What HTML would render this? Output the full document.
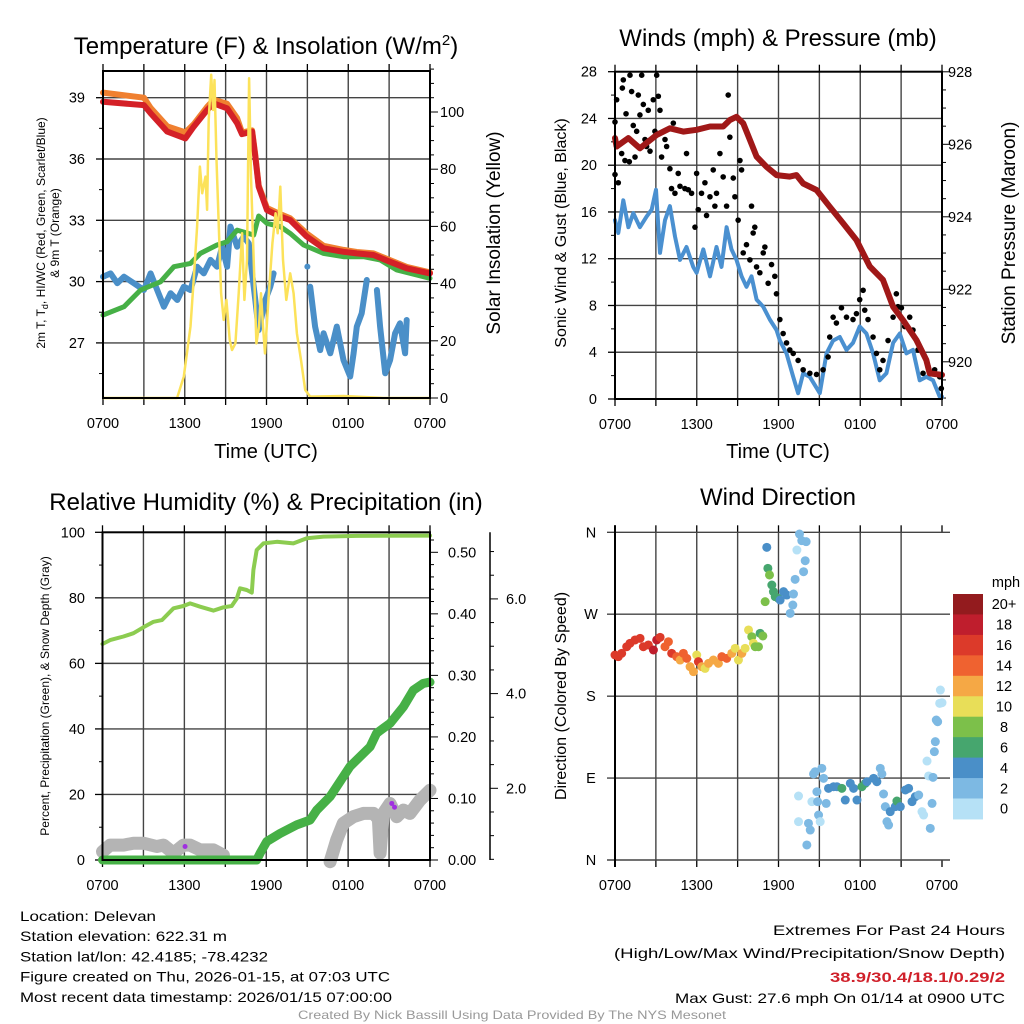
<!DOCTYPE html>
<html><head><meta charset="utf-8"><style>
body{margin:0;background:#fff;}
svg{display:block;font-family:"Liberation Sans",sans-serif;}
</style></head><body>
<svg id="c" width="1024" height="1024" viewBox="0 0 1024 1024"></svg>
<script>
// ===== Panel 1: temperature & insolation =====
const p1RedH=[0,3.0,3.49,4.71,6.05,6.66,7.64,8.13,9.11,9.84,10.2,10.94,11.18,11.43,12.04,13.01,13.74,14.96,16.19,17.65,18.63,19.85,21.07,22.29,24];
const p1Red=[38.8,38.64,38.24,37.34,37.01,37.58,38.4,38.72,38.48,37.75,37.22,37.34,36.11,34.64,33.5,33.18,33.01,32.2,31.63,31.46,31.38,31.3,30.97,30.65,30.4];
const p1Orange=[39.25,39.0,38.5,37.6,37.3,37.7,38.55,38.9,38.7,38.0,37.3,37.4,36.2,34.7,33.6,33.3,33.1,32.35,31.75,31.55,31.45,31.38,31.05,30.72,30.45];
const p1DewH=[0,1.54,2.76,4.22,5.2,6.42,7.15,8.37,9.11,9.84,11.06,11.43,12.04,13.01,13.74,14.72,16.19,17.65,19.12,20.34,21.56,24];
const p1Dew=[28.36,28.77,29.59,29.99,30.73,30.89,31.38,31.79,31.95,32.52,32.28,33.21,32.85,32.69,32.36,31.79,31.38,31.22,31.22,31.06,30.57,30.16];
const p1WcH=[0,0.56,1.05,1.54,2.27,3.0,3.49,3.98,4.47,4.96,5.45,5.93,6.42,6.91,7.4,7.89,8.37,8.74,9.11,9.35,9.84,10.33,10.7,10.94,11.18,11.43,11.91,12.28,12.52,null,15.21,15.57,15.94,16.19,16.68,17.16,17.65,18.14,18.39,18.63,18.99,19.36,null,20.1,20.34,20.71,21.07,21.44,21.8,22.17,22.29];
const p1Wc=[30.24,30.4,29.92,30.24,29.92,29.59,30.4,29.59,28.77,29.43,29.1,29.75,29.59,30.73,30.4,31.06,30.73,31.71,30.73,32.69,31.71,32.2,31.87,30.4,29.1,27.63,29.1,29.75,30.4,null,29.75,27.8,26.65,27.47,26.49,27.8,26.16,25.35,26.49,27.8,28.45,30.08,null,29.59,27.8,25.51,26.16,27.47,27.96,26.49,28.12];
const p1WcLoneH=[15.0];const p1WcLone=[30.73];
const p1SunH=[0,5.44,5.93,6.42,6.67,6.91,7.11,7.28,7.52,7.64,7.76,7.94,8.08,8.18,8.33,8.5,8.67,8.86,9.06,9.3,9.47,9.72,9.96,10.21,10.38,10.57,10.72,10.86,11.06,11.26,11.45,11.6,11.74,11.89,12.14,12.43,12.67,12.82,13.01,13.21,13.45,13.74,13.99,14.23,14.53,14.84,15.21,17.65,20.58,24];
const p1Sun=[0,0,7.5,25,42.4,59.9,80.9,71.6,77.4,65.8,97.2,113,100.7,111.2,83.2,59.9,36.6,27.3,34.3,20.3,16.8,19.1,36.6,57.6,34.3,48.3,111.8,77.4,48.3,19.1,25,36.6,25,15.6,34.3,54.1,64.6,57.6,73.9,48.3,34.3,43.6,36.6,22.6,13.3,2.8,0.5,0.7,0,0];
const p1TempTicks=[27,30,33,36,39];
const p1SunTicks=[0,20,40,60,80,100];
// ===== Panel 2: winds & pressure =====
const p2PresH=[0,0.12,0.98,1.83,3.06,4.03,5.01,5.99,6.97,7.94,8.43,8.92,9.41,9.9,10.39,11.12,11.85,12.83,13.32,13.81,14.79,15.76,16.74,17.72,18.7,19.67,20.41,21.14,22.12,22.85,23.1,24];
const p2Pres=[926.17,925.94,926.17,925.89,926.26,926.44,926.35,926.4,926.49,926.49,926.67,926.76,926.58,926.12,925.66,925.38,925.15,925.11,925.15,924.92,924.74,924.28,923.82,923.36,922.63,922.26,921.52,921.15,920.6,920.05,919.68,919.64];
const p2WindH=[0,0.24,0.61,0.98,1.34,1.83,2.32,2.69,3.01,3.3,3.67,4.03,4.4,4.77,5.25,5.74,5.99,6.48,6.97,7.45,7.82,8.19,8.55,8.92,9.29,9.65,10.02,10.39,10.88,11.36,11.85,12.1,12.59,13.08,13.44,13.81,14.3,15.03,15.52,16.01,16.5,16.99,17.47,17.96,18.45,18.94,19.43,19.92,20.41,20.9,21.39,21.87,22.36,22.85,23.34,23.83,24];
const p2Wind=[15.3,14.2,17.0,14.7,15.9,14.7,15.6,16.2,17.9,12.5,15.3,16.5,13.9,11.9,13.0,11.3,10.8,12.8,10.5,13.0,11.3,14.7,12.8,11.9,10.5,9.6,10.5,8.5,7.9,6.8,5.9,5.0,3.9,1.9,0.5,2.2,1.9,0.5,3.9,5.0,5.3,4.2,4.8,6.2,5.6,3.9,1.6,2.2,4.8,5.6,3.9,4.2,1.6,1.9,1.6,0.2,0.2];
const p2GustH=[0,0.12,0,0.24,0.54,0.61,0.81,0.49,0.73,1.05,1.1,1.22,1.34,1.47,1.59,1.71,1.83,1.96,2.08,2.2,2.32,2.44,2.57,2.81,2.93,3.06,3.18,3.3,3.42,3.67,3.79,4.03,4.15,4.4,4.28,4.64,4.77,5.13,5.25,5.38,5.62,5.87,5.99,6.11,6.35,6.6,6.72,6.97,7.21,7.33,7.45,7.7,7.94,8.19,8.31,8.43,8.68,8.8,9.04,9.17,9.29,9.41,9.65,9.9,10.02,10.14,10.26,10.39,10.63,10.88,11.0,11.24,11.49,11.73,11.85,12.1,12.34,12.59,12.83,13.08,13.44,13.81,14.3,14.79,15.27,15.64,15.76,16.01,16.25,16.62,16.99,17.47,17.72,17.96,18.21,18.33,18.57,18.94,19.19,19.43,19.67,20.04,20.41,20.65,20.77,21.02,21.26,21.63,21.87,22.24,22.61,22.97,23.46,23.83,23.95];
const p2Gust=[23.7,25.6,19.2,18.5,26.6,27.3,24.4,21.0,20.4,20.3,27.7,26.3,23.4,20.7,22.9,26.0,24.3,27.7,25.2,22.2,21.6,24.7,21.2,25.6,22.9,27.7,25.9,24.7,20.7,22.2,21.6,19.7,18.0,17.6,23.6,19.3,18.2,18.0,21.0,17.9,17.6,14.7,19.3,16.2,17.6,18.5,15.7,17.3,19.6,16.5,17.6,21.0,19.0,16.5,26.0,22.4,18.9,17.3,15.3,20.4,19.6,12.5,13.2,11.9,16.5,14.2,14.7,11.3,10.8,12.5,13.0,9.9,11.5,10.5,9.0,6.8,5.6,4.8,4.2,3.9,3.3,2.5,2.2,2.1,2.5,3.6,5.3,7.0,6.5,7.8,7.0,6.8,7.3,8.5,9.3,7.6,6.8,5.3,3.9,2.5,3.3,5.0,7.0,9.0,7.9,7.8,6.2,7.0,5.9,4.2,2.2,2.8,2.5,1.9,0.9];
const p2WindTicks=[0,4,8,12,16,20,24,28];
const p2PresTicks=[920,922,924,926,928];
// ===== Panel 3: RH, precip, snow =====
const p3RhH=[0,0.56,1.54,2.27,3.0,3.74,4.35,5.2,5.93,6.42,7.15,8.13,8.86,9.47,9.84,10.08,10.57,10.94,11.06,11.3,11.79,12.77,13.99,14.97,16.19,18.63,24];
const p3Rh=[65.9,67.1,68.2,69.2,71.0,72.7,73.2,76.8,77.5,78.3,77.3,76.1,77.1,77.5,79.8,82.9,82.4,81.6,88.5,94.6,96.6,97.1,96.6,98.2,98.7,98.9,99.0];
const p3PcpH=[0,11.3,11.55,12.04,13.01,14.23,15.21,15.7,16.68,18.14,19.61,20.09,21.07,22.05,22.78,23.51,24];
const p3Pcp=[0,0,0.011,0.03,0.043,0.057,0.065,0.081,0.103,0.152,0.184,0.206,0.222,0.249,0.276,0.287,0.289];
const p3SnowH=[0,0.56,1.54,2.27,3.0,3.98,4.47,5.2,5.93,6.42,7.15,8.13,8.86,null,16.68,17.16,17.65,18.38,19.12,19.85,20.22,20.34,20.58,21.07,21.56,22.05,22.53,23.27,24];
const p3Snow=[0.66,0.8,0.8,0.84,0.84,0.77,0.8,0.63,0.8,0.8,0.7,0.7,0.59,null,0.45,0.91,1.26,1.4,1.47,1.47,1.35,0.63,1.47,1.68,1.4,1.54,1.47,1.75,1.96];
const p3PurpleH=[6.05,21.2,21.4];const p3Purple=[0.77,1.68,1.6];
const p3RhTicks=[0,20,40,60,80,100];
const p3PcpTicks=[0,0.1,0.2,0.3,0.4,0.5];
const p3SnowTicks=[2,4,6];
// ===== Panel 4: wind direction =====
const p4H=[0,0.24,0.49,0.86,1.10,1.47,1.84,2.08,2.45,2.82,3.06,3.31,3.67,3.92,4.16,4.53,4.78,5.02,5.27,5.51,5.76,6.00,6.12,6.37,6.61,6.86,7.22,7.59,7.84,8.20,8.57,8.82,9.06,9.31,9.55,9.80,10.04,10.16,10.29,10.53,10.65,10.85,11.02,11.14,11.22,11.34,11.51,11.63,11.76,12.00,12.12,12.37,12.61,12.86,13.10,13.05,13.22,13.35,13.54,13.71,13.84,13.96,14.03,13.47,13.47,14.08,14.20,14.33,14.45,14.57,14.69,14.82,14.87,14.94,15.06,15.18,15.31,15.50,15.67,16.04,16.29,16.65,16.90,17.27,17.51,17.76,18.12,18.37,18.49,18.98,19.22,19.47,19.59,19.71,19.84,19.96,20.08,20.20,20.57,20.69,20.94,21.31,21.55,21.80,22.04,22.29,22.53,22.65,22.90,23.02,23.14,23.27,23.34,23.44,23.51,23.58,23.68,23.83,23.88,24.0];
const p4Dir=[225.2,223.4,227.0,234.3,238.0,241.7,243.5,234.3,236.2,230.7,241.7,244.6,234.3,239.8,227.0,223.4,219.7,227.0,221.5,212.4,206.9,225.2,217.9,212.4,210.5,216.0,219.7,216.0,223.4,221.5,227.0,232.5,219.7,227.0,232.5,252.7,245.3,238.0,234.3,234.3,249.0,246.1,283.8,343.5,320.4,313.1,302.1,294.8,289.3,287.4,285.6,294.8,291.1,271.0,292.2,280.1,308.3,340.5,358.1,350.8,316.7,328.8,349.7,70.3,42.1,16.5,40.3,32.9,64.1,94.5,97.0,75.0,64.1,49.4,42.1,100.7,89.7,62.2,78.7,80.5,80.5,78.7,65.9,84.2,78.7,65.9,80.5,84.2,86.0,89.7,86.0,100.7,94.5,72.5,58.6,42.1,38.4,53.1,58.6,64.8,58.6,76.9,78.7,64.1,69.6,71.4,53.1,49.4,108.7,92.3,34.8,62.2,90.8,119.0,130.0,153.8,151.9,172.1,186.7,172.8];
const p4Spd=[17,17,16,17,16,17,16,16,17,18,18,17,15,14,16,14,13,14,14,12,12,10,16,12,11,12,12,13,14,14,12,10,10,12,10,10,9,10,8,8,6,8,8,4,6,8,6,6,6,6,4,4,4,2,2,2,2,0,2,2,2,2,2,0,0,2,2,2,0,2,2,2,2,2,0,2,2,2,4,4,4,6,4,4,4,4,6,6,4,4,4,2,2,2,2,2,2,4,4,6,4,4,4,4,4,2,0,0,0,0,2,2,2,2,2,2,2,0,0,0];
const p4DirTicks=[0,90,180,270,360];
const p4DirLabels=["N","E","S","W","N"];
const p4SpdBins=[0,2,4,6,8,10,12,14,16,18,20];
const p4BinLabels=["0","2","4","6","8","10","12","14","16","18","20+"];
const p4BinColors=["#b6e1f6","#7db9e3","#4a8fc8","#46a66e","#7cc04a","#e8de58","#f5a845","#ef6230","#dc3a2a","#bf1e2d","#931b1e"];
const timeTickH=[0,6,12,18,24];
const timeTickLabels=["0700","1300","1900","0100","0700"];

const NS="http://www.w3.org/2000/svg";
const svg=document.getElementById('c');
const TK=14.5;
function mk(tag,attrs,parent){const e=document.createElementNS(NS,tag);for(const k in attrs)e.setAttribute(k,attrs[k]);(parent||svg).appendChild(e);return e;}
function txt(s,x,y,size,anchor,parent,extra){const t=mk('text',Object.assign({x:x,y:y,'font-size':size,'text-anchor':anchor||'middle',fill:'#000'},extra||{}),parent);t.textContent=s;return t;}
function lin(a,b,d0,d1){return v=>a+(v-d0)*(b-a)/(d1-d0);}
function pathD(hs,vs,sx,sy){let d='',pen=false;for(let i=0;i<hs.length;i++){if(hs[i]===null||vs[i]===null){pen=false;continue;}d+=(pen?'L':'M')+sx(hs[i]).toFixed(1)+','+sy(vs[i]).toFixed(1);pen=true;}return d;}

function frame(g,L,R,T,B,sx){
  for(let h=3;h<24;h+=3){const l=mk('line',{x1:sx(h),x2:sx(h),y1:T,y2:B,stroke:'#444','stroke-width':1.4},g);}
  for(let h=0;h<=24;h+=3){mk('line',{x1:sx(h),x2:sx(h),y1:B,y2:B+7,stroke:'#000','stroke-width':1.3},g);mk('line',{x1:sx(h),x2:sx(h),y1:T-7,y2:T,stroke:'#000','stroke-width':1.3},g);}
  timeTickH.forEach((h,i)=>{const t=txt(timeTickLabels[i],sx(h),B+30,TK,'middle',g);});
}
function box(g,L,R,T,B){const r=mk('rect',{x:L,y:T,width:R-L,height:B-T,fill:'none',stroke:'#000','stroke-width':2},g);}

// ---------- Panel 1 ----------
(function(){
const L=103,R=430,T=71,B=398;
const g=mk('g',{});
const sx=lin(L,R,0,24), sy=lin(97.7,281.6,39,30), sr=lin(398,112,0,100);
frame(g,L,R,T,B,sx);
p1TempTicks.forEach(v=>{const y=sy(v);mk('line',{x1:L,x2:R,y1:y,y2:y,stroke:'#444','stroke-width':1.4},g);mk('line',{x1:96,x2:L,y1:y,y2:y,stroke:'#000','stroke-width':1.3},g);const t=txt(String(v),85,y+5,TK,'end',g);
 const m=sy(v-1.5);if(m<B)mk('line',{x1:99,x2:L,y1:m,y2:m,stroke:'#000','stroke-width':1},g);});
for(let v=0;v<=115;v+=5){const y=sr(v);const major=v%20===0;mk('line',{x1:R,x2:R+(major?8:4),y1:y,y2:y,stroke:'#000','stroke-width':1},g);}
p1SunTicks.forEach(v=>{const t=txt(String(v),440,sr(v)+5,TK,'start',g);});
let p;
p=mk('path',{d:pathD(p1WcH,p1Wc,sx,sy),fill:'none',stroke:'#4a8fc8','stroke-width':6,'stroke-linejoin':'round','stroke-linecap':'round'},g);
p1WcLoneH.forEach((h,i)=>{const c=mk('circle',{cx:sx(h),cy:sy(p1WcLone[i]),r:3,fill:'#4a8fc8'},g);});
p=mk('path',{d:pathD(p1DewH,p1Dew,sx,sy),fill:'none',stroke:'#46b046','stroke-width':5,'stroke-linejoin':'round','stroke-linecap':'round'},g);
p=mk('path',{d:pathD(p1RedH,p1Orange,sx,sy),fill:'none',stroke:'#f08030','stroke-width':6,'stroke-linejoin':'round','stroke-linecap':'round'},g);
p=mk('path',{d:pathD(p1RedH,p1Red,sx,sy),fill:'none',stroke:'#d42027','stroke-width':6,'stroke-linejoin':'round','stroke-linecap':'round'},g);
p=mk('path',{d:pathD(p1SunH,p1Sun,sx,sr),fill:'none',stroke:'#fce25a','stroke-width':2.5,'stroke-linejoin':'round'},g);
box(g,L,R,T,B);
let t=mk('text',{x:266,y:54,'font-size':24,'text-anchor':'middle'},g);t.innerHTML='Temperature (F) &amp; Insolation (W/m<tspan dy="-9" font-size="15">2</tspan><tspan dy="9">)</tspan>';
t=txt('Time (UTC)',266,458,20,'middle',g);
t=mk('text',{x:0,y:0,'font-size':12,'text-anchor':'middle',transform:'translate(45,233) rotate(-90)'},g);t.innerHTML='2m T, T<tspan dy="3" font-size="9">d</tspan><tspan dy="-3">, HI/WC (Red, Green, Scarlet/Blue)</tspan>';
t=txt('& 9m T (Orange)',0,0,12,'middle',g,{transform:'translate(59,233) rotate(-90)'});
t=txt('Solar Insolation (Yellow)',0,0,19,'middle',g,{transform:'translate(500,233) rotate(-90)'});
})();

// ---------- Panel 2 ----------
(function(){
const L=615,R=942,T=71.7,B=399;
const g=mk('g',{});
const sx=lin(L,R,0,24), sy=lin(399,71.7,0,28), sp=lin(71.8,144.3,928,926);
frame(g,L,R,T,B,sx);
p2WindTicks.forEach(v=>{const y=sy(v);if(v>0&&v<28)mk('line',{x1:L,x2:R,y1:y,y2:y,stroke:'#444','stroke-width':1.4},g);mk('line',{x1:608,x2:L,y1:y,y2:y,stroke:'#000','stroke-width':1.3},g);const m=sy(v+2);if(v<28)mk('line',{x1:611,x2:L,y1:m,y2:m,stroke:'#000','stroke-width':1},g);const t=txt(String(v),597,y+5,TK,'end',g);});
for(let v=919;v<=928.01;v+=0.5){const y=sp(v);if(y>B+1)continue;const major=Math.abs(v%2)<0.01;mk('line',{x1:R,x2:R+(major?8:4),y1:y,y2:y,stroke:'#000','stroke-width':1},g);}
p2PresTicks.forEach(v=>{const t=txt(String(v),948,sp(v)+5,TK,'start',g);});
let p=mk('path',{d:pathD(p2WindH,p2Wind,sx,sy),fill:'none',stroke:'#4a90d0','stroke-width':4,'stroke-linejoin':'round','stroke-linecap':'round'},g);
p2GustH.forEach((h,i)=>{const c=mk('circle',{cx:sx(h),cy:sy(p2Gust[i]),r:2.8,fill:'#000'},g);});
p=mk('path',{d:pathD(p2PresH,p2Pres,sx,sp),fill:'none',stroke:'#a01818','stroke-width':6,'stroke-linejoin':'round','stroke-linecap':'round'},g);
box(g,L,R,T,B);
let t=txt('Winds (mph) & Pressure (mb)',778,46,24,'middle',g);
t=txt('Time (UTC)',778,458,20,'middle',g);
t=txt('Sonic Wind & Gust (Blue, Black)',0,0,16,'middle',g,{transform:'translate(566,233) rotate(-90)'});
t=txt('Station Pressure (Maroon)',0,0,19,'middle',g,{transform:'translate(1015,233) rotate(-90)'});
})();

// ---------- Panel 3 ----------
(function(){
const L=102.5,R=430,T=532.3,B=860;
const g=mk('g',{});
const sx=lin(L,R,0,24), sy=lin(860,532.3,0,100), sp=lin(860,552.3,0,0.5), ss=lin(788.3,693.6,2,4);
frame(g,L,R,T,B,sx);
p3RhTicks.forEach(v=>{const y=sy(v);if(v>0&&v<100)mk('line',{x1:L,x2:R,y1:y,y2:y,stroke:'#444','stroke-width':1.4},g);mk('line',{x1:95,x2:L,y1:y,y2:y,stroke:'#000','stroke-width':1.3},g);const m=sy(v+10);if(v<100)mk('line',{x1:99,x2:L,y1:m,y2:m,stroke:'#000','stroke-width':1},g);const t=txt(String(v),85,y+5,TK,'end',g);});
for(let v=0;v<=0.521;v+=0.02){const y=sp(v);const major=Math.round(v*100)%10===0;mk('line',{x1:R,x2:R+(major?8:4),y1:y,y2:y,stroke:'#000','stroke-width':1},g);}
p3PcpTicks.forEach(v=>{const t=txt(v.toFixed(2),448,sp(v)+5,TK,'start',g);});
mk('line',{x1:490,x2:490,y1:T,y2:B,stroke:'#000','stroke-width':1.5},g);
for(let v=0.5;v<=7.0;v+=0.5){const y=ss(v);if(y<T||y>B)continue;const major=v%2===0;mk('line',{x1:490,x2:490+(major?8:4),y1:y,y2:y,stroke:'#000','stroke-width':1},g);}
p3SnowTicks.forEach(v=>{const t=txt(v.toFixed(1),506,ss(v)+5,TK,'start',g);});
let p=mk('path',{d:pathD(p3SnowH,p3Snow,sx,ss),fill:'none',stroke:'#b4b4b4','stroke-width':13,'stroke-linejoin':'round','stroke-linecap':'round'},g);
p3PurpleH.forEach((h,i)=>{const c=mk('circle',{cx:sx(h),cy:ss(p3Purple[i]),r:2.5,fill:'#a030e0'},g);});
p=mk('path',{d:pathD(p3PcpH,p3Pcp,sx,sp),fill:'none',stroke:'#46b046','stroke-width':9,'stroke-linejoin':'round','stroke-linecap':'round'},g);
p=mk('path',{d:pathD(p3RhH,p3Rh,sx,sy),fill:'none',stroke:'#8ccc50','stroke-width':4,'stroke-linejoin':'round','stroke-linecap':'round'},g);
box(g,L,R,T,B);
let t=txt('Relative Humidity (%) & Precipitation (in)',266,510,24,'middle',g);
t=txt('Percent, Precipitation (Green), & Snow Depth (Gray)',0,0,12,'middle',g,{transform:'translate(49,696) rotate(-90)'});
})();

// ---------- Panel 4 ----------
(function(){
const L=615,R=942,T=532.3,B=860;
const g=mk('g',{});
const sx=lin(L,R,0,24), sy=lin(860,532.3,0,360);
frame(g,L,R,T,B,sx);
p4DirTicks.forEach((v,i)=>{const y=sy(v);mk('line',{x1:607,x2:950,y1:y,y2:y,stroke:'#444','stroke-width':1.4},g);const t=txt(p4DirLabels[i],591,y+5,TK,'middle',g);});
mk('line',{x1:L,x2:L,y1:T-7,y2:B+7,stroke:'#000','stroke-width':2},g);
function col(s){let k=0;for(let i=0;i<p4SpdBins.length;i++)if(s>=p4SpdBins[i])k=i;return p4BinColors[k];}
p4H.forEach((h,i)=>{const c=mk('circle',{cx:sx(h),cy:sy(p4Dir[i]),r:4.5,fill:col(p4Spd[i])},g);});
const cb=mk('g',{},g);
const top=594,bh=20.45;
for(let i=0;i<p4BinColors.length;i++){const k=p4BinColors.length-1-i;const r=mk('rect',{x:953,y:top+i*bh,width:30,height:bh+0.5,fill:p4BinColors[k]},cb);
 const t=txt(p4BinLabels[k],1004,top+i*bh+bh/2+5,TK,'middle',cb);}
let t=txt('mph',1006,587,TK,'middle',cb);
t=txt('Wind Direction',778,505,24,'middle',g);
t=txt('Direction (Colored By Speed)',0,0,16,'middle',g,{transform:'translate(566,696) rotate(-90)'});
})();

// ---------- Footer ----------
(function(){
const g=mk('g',{'font-family':'"Liberation Sans Narrow","Liberation Sans",sans-serif'});
const lines=[['Location: Delevan',136],['Station elevation: 622.31 m',207],['Station lat/lon: 42.4185; -78.4232',248],['Figure created on Thu, 2026-01-15, at 07:03 UTC',370],['Most recent data timestamp: 2026/01/15 07:00:00',372]];
const names=['location-text','elevation-text','latlon-text','created-text','timestamp-text'];
lines.forEach((l,i)=>{const t=txt(l[0],20,921+i*20.2,14,'start',g,{textLength:l[1],lengthAdjust:'spacingAndGlyphs'});});
const r=[['Extremes For Past 24 Hours',1005,935,232,'#000','normal','extremes-title'],['(High/Low/Max Wind/Precipitation/Snow Depth)',1005,958,391,'#000','normal','extremes-legend'],['38.9/30.4/18.1/0.29/2',1005,982,175,'#d0202a','bold','extremes-values'],['Max Gust: 27.6 mph On 01/14 at 0900 UTC',1005,1003,330,'#000','normal','max-gust-text']];
r.forEach(a=>{const t=txt(a[0],a[1],a[2],14,'end',g,{textLength:a[3],lengthAdjust:'spacingAndGlyphs',fill:a[4],'font-weight':a[5]});});
const t=txt('Created By Nick Bassill Using Data Provided By The NYS Mesonet',512,1019,12,'middle',g,{fill:'#999',textLength:428,lengthAdjust:'spacingAndGlyphs'});
})();
</script>
</body></html>
